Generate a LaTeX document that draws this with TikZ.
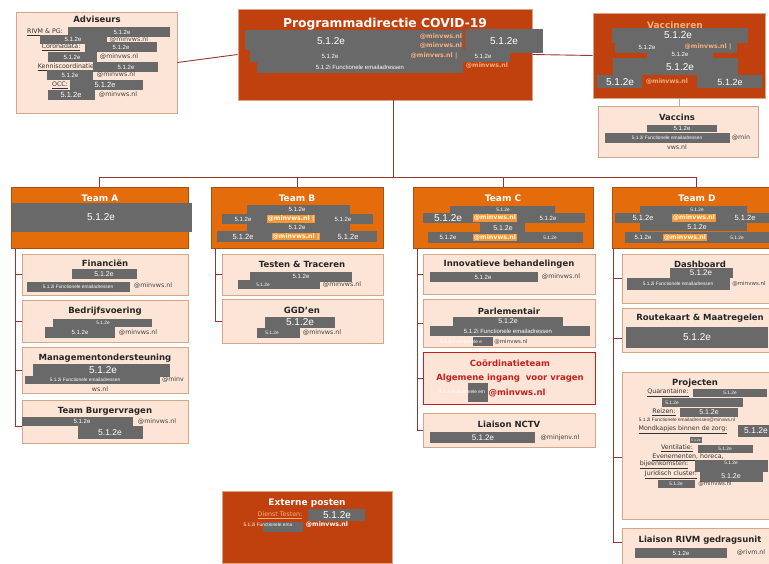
\documentclass[tikz,border=0pt]{standalone}
\usepackage{fontspec}
\setmainfont{Liberation Sans}
\newfontfamily\kopfont{DejaVu Sans}
\usetikzlibrary{calc}
\usetikzlibrary{positioning}

\newcommand{\fsz}[1]{\fontsize{#1}{#1}\selectfont}

\definecolor{pdrood}{RGB}{192,65,14}
\definecolor{teamoranje}{RGB}{228,108,10}
\definecolor{teamrand}{RGB}{170,80,20}
\definecolor{zalm}{RGB}{252,229,214}
\definecolor{rand}{RGB}{215,165,135}
\definecolor{lijnkleur}{RGB}{150,55,45}
\definecolor{grijs}{RGB}{105,105,105}
\definecolor{mailkleur}{RGB}{248,175,125}
\definecolor{markeer}{RGB}{244,150,60}
\definecolor{coordrood}{RGB}{200,30,30}
\definecolor{blauwlijn}{RGB}{150,185,215}

\tikzset{
  pdbox/.style={draw=rand, fill=pdrood, line width=.8pt},
  teambox/.style={draw=teamrand, fill=teamoranje, line width=.6pt},
  subbox/.style={draw=rand, fill=zalm, line width=.8pt},
  kop/.style={inner sep=0pt, text=black!85, font=\kopfont\bfseries\fsz{8.5}},
  witkop/.style={kop, text=white, font=\kopfont\bfseries\fsz{9}},
  nr/.style={inner sep=0pt, text=white, font=\fsz{6}},
  nrgroot/.style={nr, font=\fsz{10}},
  nrklein/.style={nr, font=\fsz{4.8}},
  adres/.style={inner sep=0pt, text=black!75, font=\kopfont\fsz{6.3}},
  mail/.style={inner sep=0pt, text=mailkleur, font=\kopfont\bfseries\fsz{6.3}},
  mailhl/.style={mail, fill=markeer, text=white!85!yellow, inner sep=.8pt},
  lbl/.style={inner sep=0pt, text=black!80, font=\kopfont\fsz{6.3}},
  lijn/.style={draw=lijnkleur, line width=.9pt}
}

\begin{document}
\begin{tikzpicture}[x=1pt, y=-1pt]

\fill[white] (0,0) rectangle (769,564);
\useasboundingbox (0,0) rectangle (769,564);

% bovenste rij
\node[subbox, minimum width=161pt, minimum height=101pt] at (96.5,62.5) (adv) {};
\node[pdbox, minimum width=294pt, minimum height=91pt] at (385,54.5) (pd) {};
\node[pdbox, minimum width=172pt, minimum height=85pt] at (679,55.5) (vac) {};
\node[subbox, minimum width=160pt, minimum height=51pt] at (678,131.5) (vcs) {};

% teams
\node[teambox, minimum width=177pt, minimum height=61pt] at (99.5,217.5) (tA) {};
\node[teambox, minimum width=172pt, minimum height=61pt] at (297,217.5) (tB) {};
\node[teambox, minimum width=180pt, minimum height=61pt] at (503,217.5) (tC) {};
\node[teambox, minimum width=168pt, minimum height=61pt] at (696,217.5) (tD) {};

% onderdelen
\node[subbox, minimum width=166pt, minimum height=41pt] at (105,274.5) (fin) {};
\node[subbox, minimum width=166pt, minimum height=42pt] at (105,321) (bedr) {};
\node[subbox, minimum width=166pt, minimum height=46pt] at (105,370) (mgmt) {};
\node[subbox, minimum width=166pt, minimum height=43pt] at (105,421.5) (burg) {};

\node[subbox, minimum width=161pt, minimum height=41pt] at (302.5,274.5) (tt) {};
\node[subbox, minimum width=161pt, minimum height=44pt] at (302.5,321) (ggd) {};

\node[subbox, minimum width=172pt, minimum height=40pt] at (509,274) (inno) {};
\node[subbox, minimum width=172pt, minimum height=48pt] at (509,323) (parl) {};
\node[subbox, draw=coordrood, minimum width=172pt, minimum height=52pt] at (509,378) (coord) {};
\node[subbox, minimum width=172pt, minimum height=34pt] at (509,430) (nctv) {};

\node[subbox, minimum width=158pt, minimum height=49pt] at (701,278.5) (dash) {};
\node[subbox, minimum width=158pt, minimum height=44pt] at (701,330) (route) {};
\node[subbox, minimum width=158pt, minimum height=147pt] at (701,445.5) (proj) {};
\node[subbox, minimum width=158pt, minimum height=38pt] at (701,547) (rivm) {};

\node[pdbox, minimum width=170pt, minimum height=72pt] at (307,527) (ext) {};

% verbindingen
\coordinate (bus) at (393,177);
\draw[lijn] (adv.east) -- (pd.west);
\draw[lijn] (pd.east) -- (vac.west);
\draw[draw=blauwlijn, line width=.9pt] (vac.south) -- (vac.south |- vcs.north);
\draw[lijn] (bus |- pd.south) -- (bus);
\draw[lijn] (tA.north) |- (bus);
\draw[lijn] (tB.north) |- (bus);
\draw[lijn] (tC.north) |- (bus);
\draw[lijn] (tD.north) |- (bus);

\coordinate (kA) at (15,248);
\coordinate (kB) at (215,248);
\coordinate (kC) at (417,248);
\coordinate (kD) at (613,248);
\draw[lijn] (kA) |- (fin.west);
\draw[lijn] (kA) |- (bedr.west);
\draw[lijn] (kA) |- (mgmt.west);
\draw[lijn] (kA) |- ([yshift=-5pt]burg.west);
\draw[lijn] (kB) |- (tt.west);
\draw[lijn] (kB) |- (ggd.west);
\draw[lijn] (kC) |- (inno.west);
\draw[lijn] (kC) |- (parl.west);
\draw[lijn] (kC) |- (coord.west);
\draw[lijn] (kC) |- (nctv.west);
\draw[lijn] (kD) |- (dash.west);
\draw[lijn] (kD) |- ([yshift=-8pt]route.west);
\draw[lijn] (kD) |- ([yshift=-12pt]proj.west);
\draw[lijn] (kD) |- ([yshift=5pt]rivm.west);

% Adviseurs
\node[kop] at (97,19) (advk) {Adviseurs};
\node[lbl] at (45,32) (l1) {\underline{RIVM \& PG:}};
\node[lbl] at (61,47) (l2) {\underline{Coronadata:}};
\node[lbl] at (67,67) (l3) {\underline{Kenniscoordinatie:}};
\node[lbl] at (60,85) (l4) {\underline{OCC:}};
\fill[grijs] (68,27) rectangle (170,37);
\fill[grijs] (40,35) rectangle (107,44);
\fill[grijs] (85,42) rectangle (157,52);
\fill[grijs] (48,52) rectangle (97,62);
\fill[grijs] (93,62) rectangle (158,72);
\fill[grijs] (47,70) rectangle (93,80);
\fill[grijs] (70,80) rectangle (143,90);
\fill[grijs] (48,90) rectangle (95,100);
\node[nr] at (122,32) (a1) {5.1.2e};
\node[nr] at (73,39.5) (a2) {5.1.2e};
\node[adres] at (129,40) (a2m) {@minvws.nl};
\node[nr] at (121,47) (a3) {5.1.2e};
\node[nr] at (72,57) (a4) {5.1.2e};
\node[adres] at (119,57) (a4m) {@minvws.nl};
\node[nr] at (126,67) (a5) {5.1.2e};
\node[nr] at (70,75) (a6) {5.1.2e};
\node[adres] at (116,75) (a6m) {@minvws.nl};
\node[nr, font=\fsz{7.5}] at (105,85) (a7) {5.1.2e};
\node[nr, font=\fsz{7.5}] at (71,95) (a8) {5.1.2e};
\node[adres] at (118,95) (a8m) {@minvws.nl};

% Programmadirectie
\node[witkop, font=\kopfont\bfseries\fsz{12.3}] at (385,24) (pdk) {Programmadirectie COVID-19};
\fill[grijs] (245,30) rectangle (463,50);
\fill[grijs] (465,29) rectangle (543,53);
\fill[grijs] (250,50) rectangle (510,62);
\fill[grijs] (257,62) rectangle (463,73);
\node[nrgroot] at (331,41) (p1) {5.1.2e};
\node[nrgroot] at (504,41) (p2) {5.1.2e};
\node[mail] at (441,37) (p1m) {@minvws.nl};
\node[mail] at (441,46) (p2m) {@minvws.nl};
\node[nr] at (330,56) (p3) {5.1.2e};
\node[mail] at (434,56) (p3m) {@minvws.nl |};
\node[nr] at (483,56) (p4) {5.1.2e};
\node[nr] at (360,67) (p5) {5.1.2i Functionele emailadressen};
\node[mail] at (487,66) (p5m) {@minvws.nl};

% Vaccineren
\node[witkop, text=mailkleur] at (675,25) (vack) {Vaccineren};
\fill[grijs] (612,28) rectangle (748,43);
\fill[grijs] (615,42) rectangle (737,53);
\fill[grijs] (647,50) rectangle (713,58);
\fill[grijs] (613,58) rectangle (738,75);
\fill[grijs] (597,75) rectangle (642,88);
\fill[grijs] (697,75) rectangle (762,88);
\node[nrgroot] at (678,35) (v1) {5.1.2e};
\node[nr] at (647,47) (v2) {5.1.2e};
\node[mail] at (708,47) (v2m) {@minvws.nl |};
\node[nr] at (680,54) (v3) {5.1.2e};
\node[nrgroot] at (680,67) (v4) {5.1.2e};
\node[nrgroot] at (620,82) (v5) {5.1.2e};
\node[mail] at (667,82) (v5m) {@minvws.nl};
\node[nr, font=\fsz{9}] at (730,82) (v6) {5.1.2e};

% Vaccins
\node[kop] at (677,117) (vcsk) {Vaccins};
\fill[grijs] (647,125) rectangle (717,132);
\fill[grijs] (605,133) rectangle (730,143);
\node[nr] at (682,128.5) (c1) {5.1.2e};
\node[nrklein] at (667,138) (c2) {5.1.2i Functionele emailadressen};
\node[adres] at (741,138) (c2m) {@min};
\node[adres] at (677,147) (c3m) {vws.nl};

% Team A
\node[witkop] at (100,198) (tAk) {Team A};
\fill[grijs] (12,203) rectangle (192,232);
\node[nrgroot] at (101,217) (ta1) {5.1.2e};

% Team B
\node[witkop] at (297,198) (tBk) {Team B};
\fill[grijs] (247,205) rectangle (350,214);
\fill[grijs] (222,214) rectangle (373,224);
\fill[grijs] (247,224) rectangle (350,231);
\fill[grijs] (217,231) rectangle (377,242);
\node[nr] at (297,209.5) (tb1) {5.1.2e};
\node[nr] at (243,219) (tb2) {5.1.2e};
\node[mailhl] at (291,219) (tb2m) {@minvws.nl |};
\node[nr] at (343,219) (tb3) {5.1.2e};
\node[nr] at (297,227.5) (tb4) {5.1.2e};
\node[nr, font=\fsz{7.5}] at (243,236.5) (tb5) {5.1.2e};
\node[mailhl] at (296,236.5) (tb5m) {@minvws.nl |};
\node[nr, font=\fsz{7.5}] at (348,236.5) (tb6) {5.1.2e};

% Team C
\node[witkop] at (503,198) (tCk) {Team C};
\fill[grijs] (450,206) rectangle (555,213);
\fill[grijs] (423,213) rectangle (585,223);
\fill[grijs] (480,223) rectangle (525,232);
\fill[grijs] (428,232) rectangle (583,243);
\node[nrklein] at (503,209.5) (tc1) {5.1.2e};
\node[nrgroot] at (448,218) (tc2) {5.1.2e};
\node[mailhl] at (495,218) (tc2m) {@minvws.nl};
\node[nr] at (548,218) (tc3) {5.1.2e};
\node[nr, font=\fsz{7}] at (503,228) (tc4) {5.1.2e};
\node[nr] at (448,237.5) (tc5) {5.1.2e};
\node[mailhl] at (495,237.5) (tc5m) {@minvws.nl};
\node[nrklein] at (550,237.5) (tc6) {5.1.2e};

% Team D
\node[witkop] at (697,198) (tDk) {Team D};
\fill[grijs] (640,206) rectangle (747,213);
\fill[grijs] (615,213) rectangle (770,223);
\fill[grijs] (640,223) rectangle (747,231);
\fill[grijs] (625,232) rectangle (770,243);
\node[nrklein] at (697,209.5) (td1) {5.1.2e};
\node[nr, font=\fsz{7.5}] at (643,218) (td2) {5.1.2e};
\node[mailhl] at (694,218) (td2m) {@minvws.nl};
\node[nr, font=\fsz{7.5}] at (745,218) (td3) {5.1.2e};
\node[nr, font=\fsz{7}] at (697,227) (td4) {5.1.2e};
\node[nr] at (643,237.5) (td5) {5.1.2e};
\node[mailhl] at (685,237.5) (td5m) {@minvws.nl};
\node[nrklein] at (737,237.5) (td6) {5.1.2e};

% Team A onderdelen
\node[kop] at (105,263) (fink) {Financiën};
\fill[grijs] (72,269) rectangle (137,279);
\fill[grijs] (27,282) rectangle (130,292);
\node[nr, font=\fsz{7}] at (104,274) (f1) {5.1.2e};
\node[nrklein] at (78,287) (f2) {5.1.2i Functionele emailadressen};
\node[adres] at (153,286) (f2m) {@minvws.nl};

\node[kop] at (105,311) (bedrk) {Bedrijfsvoering};
\fill[grijs] (53,319) rectangle (152,327);
\fill[grijs] (45,327) rectangle (115,338);
\node[nrklein] at (103,323) (b1) {5.1.2e};
\node[nr] at (80,332.5) (b2) {5.1.2e};
\node[adres] at (138,333) (b2m) {@minvws.nl};

\node[kop] at (105,358) (mgmtk) {Managementondersteuning};
\fill[grijs] (33,364) rectangle (170,377);
\fill[grijs] (25,376) rectangle (160,384);
\node[nrgroot] at (103,370.5) (m1) {5.1.2e};
\node[nrklein] at (85,380) (m2) {5.1.2i Functionele emailadressen};
\node[adres] at (173,380) (m2m) {@minv};
\node[adres] at (100,389) (m3m) {ws.nl};

\node[kop] at (105,411) (burgk) {Team Burgervragen};
\fill[grijs] (22,417) rectangle (133,426);
\fill[grijs] (78,426) rectangle (143,439);
\node[nr] at (82,421.5) (g1) {5.1.2e};
\node[adres] at (157,422) (g1m) {@minvws.nl};
\node[nr, font=\fsz{8.5}] at (110,432.5) (g2) {5.1.2e};

% Team B onderdelen
\node[kop] at (302,264) (ttk) {Testen \& Traceren};
\fill[grijs] (250,272) rectangle (352,282);
\fill[grijs] (238,280) rectangle (320,289);
\node[nr] at (301,276.5) (s1) {5.1.2e};
\node[nrklein] at (263,284.5) (s2) {5.1.2e};
\node[adres] at (342,285) (s2m) {@minvws.nl};

\node[kop] at (302,310) (ggdk) {GGD’en};
\fill[grijs] (265,317) rectangle (335,328);
\fill[grijs] (257,328) rectangle (300,338);
\node[nrgroot] at (300,322.5) (d1) {5.1.2e};
\node[nrklein] at (272,333) (d2) {5.1.2e};
\node[adres] at (322,333) (d2m) {@minvws.nl};

% Team C onderdelen
\node[kop] at (509,264) (innok) {Innovatieve behandelingen};
\fill[grijs] (430,272) rectangle (538,282);
\node[nr] at (483,277) (i1) {5.1.2e};
\node[adres] at (561,277) (i1m) {@minvws.nl};

\node[kop] at (509,311) (parlk) {Parlementair};
\fill[grijs] (453,317) rectangle (563,327);
\fill[grijs] (430,326) rectangle (590,336);
\fill[grijs] (473,337) rectangle (493,346);
\node[nr, font=\fsz{7}] at (508,321.5) (r1) {5.1.2e};
\node[nr] at (508,331) (r2) {5.1.2i Functionele emailadressen};
\node[nrklein] at (461,341.5) (r3) {5.1.2i Functionele e};
\node[adres, font=\kopfont\fsz{5.5}] at (511,341.5) (r3m) {@minvws.nl};

\node[kop, text=coordrood] at (510,363) (coordk) {Coördinatieteam};
\node[kop, text=coordrood] at (510,378) (coordv) {Algemene ingang\ \ voor vragen};
\fill[grijs] (468,383) rectangle (488,402);
\node[nrklein] at (462,392) (o1) {5.1.2i Functionele em};
\node[kop, text=coordrood] at (517,393) (o1m) {@minvws.nl};

\node[kop] at (509,424) (nctvk) {Liaison NCTV};
\fill[grijs] (430,432) rectangle (535,443);
\node[nr, font=\fsz{8}] at (483,437.5) (n1) {5.1.2e};
\node[adres] at (560,437.5) (n1m) {@minjenv.nl};

% Team D onderdelen
\node[kop] at (700,264) (dashk) {Dashboard};
\fill[grijs] (670,268) rectangle (733,278);
\fill[grijs] (627,278) rectangle (730,290);
\node[nr, font=\fsz{8}] at (701,273) (h1) {5.1.2e};
\node[nrklein] at (678,284) (h2) {5.1.2i Functionele emailadressen};
\node[adres, font=\kopfont\fsz{5.5}] at (749,284) (h2m) {@minvws.nl};

\node[kop] at (700,318) (routek) {Routekaart \& Maatregelen};
\fill[grijs] (626,327) rectangle (768,348);
\node[nrgroot] at (697,337.5) (k1) {5.1.2e};

\node[kop] at (695,383) (projk) {Projecten};
\node[lbl] at (668,393) (q0) {\underline{Quarantaine:}};
\fill[grijs] (693,389) rectangle (767,397);
\fill[grijs] (662,398) rectangle (743,407);
\node[nrklein] at (730,393) (q1) {5.1.2e};
\node[nrklein] at (672,402.5) (q2) {5.1.2e};
\node[lbl] at (664,412) (q3) {\underline{Reizen:}};
\fill[grijs] (680,408) rectangle (738,417);
\node[nr, font=\fsz{7}] at (709,412.5) (q4) {5.1.2e};
\node[lbl, font=\fsz{4.8}] at (687,420.5) (q5) {5.1.2i Functionele emailadressen@minvws.nl};
\node[lbl] at (683,430) (q6) {\underline{Mondkapjes binnen de zorg:}};
\fill[grijs] (738,425) rectangle (770,437);
\node[nr, font=\fsz{8.5}] at (756,431) (q7) {5.1.2e};
\fill[grijs] (690,437) rectangle (702,443);
\node[nr, font=\fsz{3.5}] at (696,440) (q8) {5.1.2e};
\node[lbl] at (677,448) (q9) {\underline{Ventilatie:}};
\fill[grijs] (698,445) rectangle (753,453);
\node[nrklein] at (725,449) (q10) {5.1.2e};
\node[lbl] at (688,457) (q11) {\underline{Evenementen, horeca,}};
\node[lbl] at (664,465) (q12) {\underline{bijeenkomsten:}};
\fill[grijs] (695,460) rectangle (768,472);
\node[nrklein] at (731,463) (q13) {5.1.2e};
\node[lbl] at (671,475) (q14) {\underline{Juridisch cluster:}};
\fill[grijs] (700,470) rectangle (763,482);
\node[nr, font=\fsz{7}] at (731,476) (q15) {5.1.2e};
\fill[grijs] (658,480) rectangle (695,488);
\node[nrklein] at (676,484) (q16) {5.1.2e};
\node[adres, font=\kopfont\fsz{5.5}] at (715,484) (q16m) {@minvws.nl};

\node[kop] at (700,540) (rivmk) {Liaison RIVM gedragsunit};
\fill[grijs] (635,548) rectangle (727,558);
\node[nr] at (681,553) (z1) {5.1.2e};
\node[adres] at (751,553) (z1m) {@rivm.nl};

% Externe posten
\node[witkop] at (307,503) (extk) {Externe posten};
\node[lbl, text=mailkleur] at (280,515) (e0) {\underline{Dienst Testen:}};
\fill[grijs] (308,509) rectangle (365,521);
\node[nrgroot] at (337,515) (e1) {5.1.2e};
\fill[grijs] (263,522) rectangle (303,532);
\node[nrklein] at (268,525) (e2) {5.1.2i Functionele ema};
\node[mail, text=white] at (327,525) (e2m) {@minvws.nl};

\end{tikzpicture}
\end{document}
